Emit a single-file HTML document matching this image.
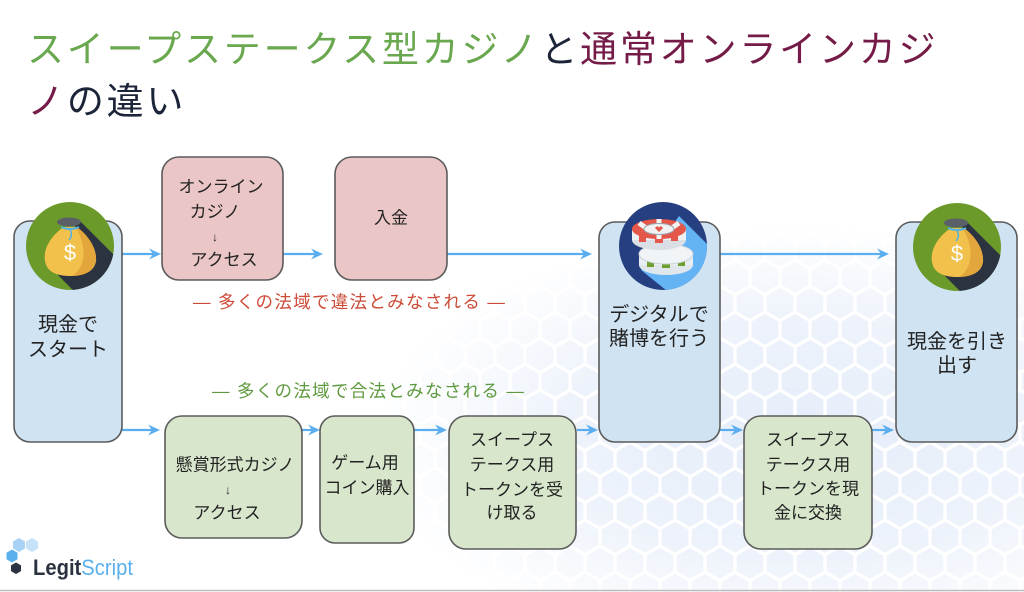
<!DOCTYPE html>
<html><head><meta charset="utf-8">
<style>
html,body{margin:0;padding:0;background:#fff;}
body{width:1024px;height:592px;overflow:hidden;}
svg{display:block;}
text{font-family:"Liberation Sans","Noto Sans CJK JP",sans-serif;}
</style></head>
<body>
<svg width="1024" height="592" viewBox="0 0 1024 592" xmlns="http://www.w3.org/2000/svg">
<defs>
  <pattern id="hex" width="30" height="52" patternUnits="userSpaceOnUse">
    <rect width="30" height="52" fill="#e4ecf9"/>
    <g fill="none" stroke="#ffffff" stroke-width="3.2">
      <polygon points="15,0 30,8.7 30,26 15,34.7 0,26 0,8.7"/>
      <polygon points="0,26 15,34.7 15,52 0,60.7 -15,52 -15,34.7"/>
      <polygon points="30,26 45,34.7 45,52 30,60.7 15,52 15,34.7"/>
    </g>
  </pattern>
  <radialGradient id="fade" cx="800" cy="440" r="430" gradientUnits="userSpaceOnUse" gradientTransform="translate(800 440) scale(1 0.5) translate(-800 -440)">
    <stop offset="0" stop-color="#fff" stop-opacity="0.95"/>
    <stop offset="0.55" stop-color="#fff" stop-opacity="0.65"/>
    <stop offset="1" stop-color="#fff" stop-opacity="0"/>
  </radialGradient>
  <mask id="m1"><rect x="0" y="0" width="1024" height="592" fill="url(#fade)"/></mask>
  <clipPath id="cc"><circle cx="0" cy="0" r="44"/></clipPath>
  <g id="money">
    <circle r="44" fill="#6b9a2b"/>
    <g clip-path="url(#cc)">
      <polygon points="8,-27 80,45 58,100 -12,29" fill="#2b3340"/>
    </g>
    <path d="M -6,-19 C -20,-10 -27,4 -25,15 C -23,28 -9,30 0,30 C 9,30 24,28 26,15 C 27,3 19,-10 7,-19 Z" fill="#f2c14c"/>
    <path d="M 7,-19 C 19,-10 27,3 26,15 C 24,28 9,30 2,30 C 12,24 16,10 12,-4 C 10,-11 8,-16 4,-19 Z" fill="#e2a63c"/>
    <ellipse cx="-1" cy="-24" rx="12" ry="4.5" fill="#5b6068"/>
    <path d="M -9,-19 Q 0,-15 9,-19" stroke="#4fb2e8" stroke-width="2" fill="none"/>
    <path d="M 0,-17 Q 3,-10 -1,-6" stroke="#4fb2e8" stroke-width="1.5" fill="none"/>
    <text x="0" y="14" text-anchor="middle" font-size="22" fill="#ffffff" style="font-family:'Liberation Sans',sans-serif">$</text>
  </g>
  <g id="chips">
    <circle r="44" fill="#253f80"/>
    <g clip-path="url(#cc)">
      <polygon points="16,-30 90,44 60,90 -22,24" fill="#63b3f5"/>
    </g>
    <!-- bottom chip -->
    <ellipse cx="3" cy="19" rx="27" ry="10" fill="#dfe6ec"/>
    <rect x="-24" y="8" width="54" height="11" fill="#e9eef2"/>
    <rect x="-16" y="8" width="7" height="13" fill="#6f9f2f"/>
    <rect x="-1" y="8" width="8" height="14" fill="#6f9f2f"/>
    <rect x="15" y="8" width="7" height="12" fill="#6f9f2f"/>
    <ellipse cx="3" cy="8" rx="27" ry="10" fill="#f1f4f6" stroke="#c9d1d8" stroke-width="1"/>
    <!-- top chip -->
    <ellipse cx="-4" cy="-6" rx="27" ry="10" fill="#d9dfe4"/>
    <rect x="-31" y="-17" width="54" height="11" fill="#eef1f3"/>
    <rect x="-24" y="-17" width="7" height="13" fill="#e4574a"/>
    <rect x="-8" y="-17" width="8" height="14" fill="#e4574a"/>
    <rect x="8" y="-17" width="7" height="12" fill="#e4574a"/>
    <ellipse cx="-4" cy="-17" rx="27" ry="10" fill="#e4574a"/>
    <path d="M -24,-23 L -14,-16 M 16,-23 L 6,-16 M -4,-27 L -4,-21 M -4,-13 L -4,-7" stroke="#f3f3f3" stroke-width="5"/>
    <ellipse cx="-4" cy="-17" rx="15" ry="5.5" fill="#f2f2f2" stroke="#9aa4ad" stroke-width="1"/>
    <path d="M -4,-14 L -8,-18 Q -6,-21 -4,-18.5 Q -2,-21 0,-18 Z" fill="#e4574a"/>
  </g>
</defs>

<!-- background mesh -->
<rect x="0" y="0" width="1024" height="592" fill="url(#hex)" mask="url(#m1)"/>
<line x1="0" y1="590.5" x2="1024" y2="590.5" stroke="#bdbdbd" stroke-width="1.5"/>

<!-- title -->
<text x="27" y="49" dominant-baseline="central" font-size="37" letter-spacing="2.8"><tspan fill="#6aa84f">スイープステークス型カジノ</tspan><tspan fill="#1b2438">と</tspan><tspan fill="#741b47">通常オンラインカジ</tspan></text>
<text x="27" y="101" dominant-baseline="central" font-size="37" letter-spacing="2.8"><tspan fill="#741b47">ノ</tspan><tspan fill="#1b2438">の違い</tspan></text>

<!-- arrows -->
<g stroke="#5aaef0" stroke-width="2.2">
  <line x1="122" y1="254" x2="153" y2="254"/>
  <line x1="283" y1="254" x2="315" y2="254"/>
  <line x1="447" y1="254" x2="584" y2="254"/>
  <line x1="720" y1="254" x2="881" y2="254"/>
  <line x1="122" y1="430" x2="152" y2="430"/>
  <line x1="302" y1="430" x2="312" y2="430"/>
  <line x1="414" y1="430" x2="439" y2="430"/>
  <line x1="577" y1="430" x2="590" y2="430"/>
  <line x1="720" y1="430" x2="735" y2="430"/>
  <line x1="872" y1="430" x2="886" y2="430"/>
</g>
<g fill="#5aaef0">
  <polygon points="161,254 149,248.5 153,254 149,259.5"/>
  <polygon points="323,254 311,248.5 315,254 311,259.5"/>
  <polygon points="592,254 580,248.5 584,254 580,259.5"/>
  <polygon points="889,254 877,248.5 881,254 877,259.5"/>
  <polygon points="160,430 148,424.5 152,430 148,435.5"/>
  <polygon points="320,430 308,424.5 312,430 308,435.5"/>
  <polygon points="447,430 435,424.5 439,430 435,435.5"/>
  <polygon points="598,430 586,424.5 590,430 586,435.5"/>
  <polygon points="743,430 731,424.5 735,430 731,435.5"/>
  <polygon points="894,430 882,424.5 886,430 882,435.5"/>
</g>

<!-- boxes -->
<g stroke="#5b5b5b" stroke-width="1.6">
  <rect x="14" y="221" width="108" height="221" rx="16" fill="#cfe3f3"/>
  <rect x="599" y="222" width="121" height="220" rx="16" fill="#cfe3f3"/>
  <rect x="896" y="222" width="121" height="220" rx="16" fill="#cfe3f3"/>
  <rect x="162" y="157" width="121" height="123" rx="17" fill="#ebc6c6"/>
  <rect x="335" y="157" width="112" height="123" rx="17" fill="#ebc6c6"/>
  <rect x="165" y="416" width="137" height="122" rx="17" fill="#d8e6cc"/>
  <rect x="320" y="416" width="94" height="127" rx="15" fill="#d8e6cc"/>
  <rect x="449" y="416" width="127" height="133" rx="17" fill="#d8e6cc"/>
  <rect x="744" y="416" width="128" height="133" rx="17" fill="#d8e6cc"/>
</g>

<!-- icons -->
<use href="#money" transform="translate(70 246)"/>
<use href="#chips" transform="translate(663 246)"/>
<use href="#money" transform="translate(957 247)"/>

<!-- box texts -->
<g fill="#222" font-size="20" text-anchor="middle" dominant-baseline="central">
  <text x="68" y="325">現金で</text>
  <text x="68" y="350">スタート</text>
  <text x="659" y="315">デジタルで</text>
  <text x="659" y="339">賭博を行う</text>
  <text x="957" y="342">現金を引き</text>
  <text x="957" y="366">出す</text>
</g>
<g fill="#222" font-size="17" text-anchor="middle" dominant-baseline="central">
  <text x="221" y="187">オンライン</text>
  <text x="215" y="212">カジノ</text>
  <text x="215" y="237" font-size="12">↓</text>
  <text x="224" y="260">アクセス</text>
  <text x="391" y="218">入金</text>

  <text x="235" y="465">懸賞形式カジノ</text>
  <text x="228" y="490" font-size="12">↓</text>
  <text x="227" y="513">アクセス</text>

  <text x="365" y="463">ゲーム用</text>
  <text x="367" y="488">コイン購入</text>

  <text x="512" y="440">スイープス</text>
  <text x="512" y="465">テークス用</text>
  <text x="512" y="490">トークンを受</text>
  <text x="512" y="513">け取る</text>

  <text x="808" y="440">スイープス</text>
  <text x="808" y="465">テークス用</text>
  <text x="808" y="489">トークンを現</text>
  <text x="808" y="513">金に交換</text>
</g>

<!-- legality labels -->
<text x="193" y="302" font-size="17.5" letter-spacing="1.3" dominant-baseline="central" fill="#cc4b37">— 多くの法域で違法とみなされる —</text>
<text x="212" y="391" font-size="17.5" letter-spacing="1.3" dominant-baseline="central" fill="#5e9a3e">— 多くの法域で合法とみなされる —</text>

<!-- logo -->
<g>
  <polygon points="19,538 25,541.5 25,548.5 19,552 13,548.5 13,541.5" fill="#a9d3f6"/>
  <polygon points="32,538 38,541.5 38,548.5 32,552 26,548.5 26,541.5" fill="#c6e2f9"/>
  <polygon points="12,549.5 17.5,552.7 17.5,559.3 12,562.5 6.5,559.3 6.5,552.7" fill="#5ab0ec"/>
  <polygon points="16,562.5 21,565.4 21,571.1 16,574 11,571.1 11,565.4" fill="#2b3340"/>
  <text x="33" y="575" font-size="22" textLength="100" lengthAdjust="spacingAndGlyphs" style="font-family:'Liberation Sans',sans-serif"><tspan fill="#2b3340" font-weight="bold">Legit</tspan><tspan fill="#5ab0ec">Script</tspan></text>
</g>
</svg>
</body></html>
